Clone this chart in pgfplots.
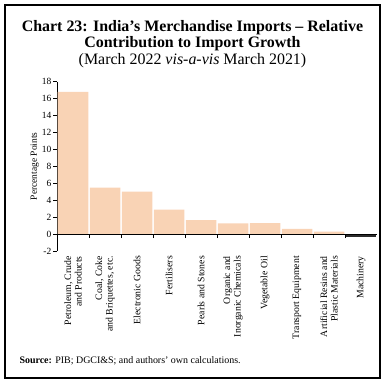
\documentclass[border=0pt]{standalone}
\usepackage{pgfplots}
\pgfplotsset{compat=1.18}
\usepackage{fontspec}
\setmainfont{Liberation Serif}
\definecolor{barc}{HTML}{F9D3B5}
\definecolor{darkbar}{HTML}{2B2B2B}
\begin{document}
\begin{tikzpicture}[x=1bp,y=1bp]
\useasboundingbox (0,0) rectangle (385,383);
\draw[line width=1.2bp] (5,5) rectangle (380,378);
\node[anchor=base,font=\bfseries\fontsize{16}{18}\selectfont] at (192.5,352) {Chart 23: India's Merchandise Imports -- Relative};
\node[anchor=base,font=\bfseries\fontsize{16}{18}\selectfont] at (192.5,336) {Contribution to Import Growth};
\node[anchor=base,font=\fontsize{16}{18}\selectfont] at (192.5,319) {(March 2022 \textit{vis-a-vis} March 2021)};
\node[anchor=base west,font=\fontsize{10}{11}\selectfont] at (16,20) {\textbf{Source:} PIB; DGCI\&S; and authors' own calculations.};
\begin{axis}[
  at={(57bp,132bp)}, anchor=south west,
  scale only axis, width=320bp, height=169.3bp,
  xmin=-0.5, xmax=9.5, ymin=-2, ymax=18,
  axis y line=left, axis x line=bottom,
  x axis line style={draw=none},
  y axis line style={-, line width=0.9bp},
  ytick={-2,0,...,18},
  tick align=outside, major tick length=4bp,
  major y tick style={black, line width=0.6bp},
  y tick label style={font=\fontsize{9.5}{10}\selectfont, inner sep=1.5bp},
  /pgf/number format/assume math mode=true,
  ylabel={Percentage Points},
  ylabel style={font=\fontsize{9.5}{10}\selectfont, yshift=-2bp},
  xtick={0,...,9},
  major x tick style={draw=none},
  xticklabels={{Petroleum, Crude\\and Products},{Coal, Coke\\and Briquettes, etc.},{Electronic Goods},{Fertilisers},{Pearls and Stones},{Organic and\\Inorganic Chemicals},{Vegetable Oil},{Transport Equipment},{Artificial Resins and\\Plastic Materials},{Machinery}},
  x tick label style={rotate=90, anchor=east, align=right, font=\fontsize{9.8}{10.5}\selectfont, inner sep=1bp},
  ybar, bar width=30.5bp, bar shift=0pt,
  clip=false,
]
\addplot[fill=barc, draw=none] coordinates {(0,16.8) (1,5.5) (2,5.0) (3,2.9) (4,1.65) (5,1.25) (6,1.3) (7,0.6) (8,0.3)};
\addplot[fill=darkbar, draw=none] coordinates {(9,-0.3)};
\end{axis}
\begin{axis}[
  at={(57bp,132bp)}, anchor=south west,
  scale only axis, width=320bp, height=169.3bp,
  xmin=-0.5, xmax=9.5, ymin=-2, ymax=18,
  axis y line=none, axis x line=middle,
  x axis line style={-, line width=0.9bp},
  xtick={0.5,1.5,...,8.5}, xticklabels={},
  tick align=outside, major tick length=4bp,
  major x tick style={black, line width=0.6bp},
  ytick=\empty,
]
\end{axis}
\end{tikzpicture}
\end{document}
